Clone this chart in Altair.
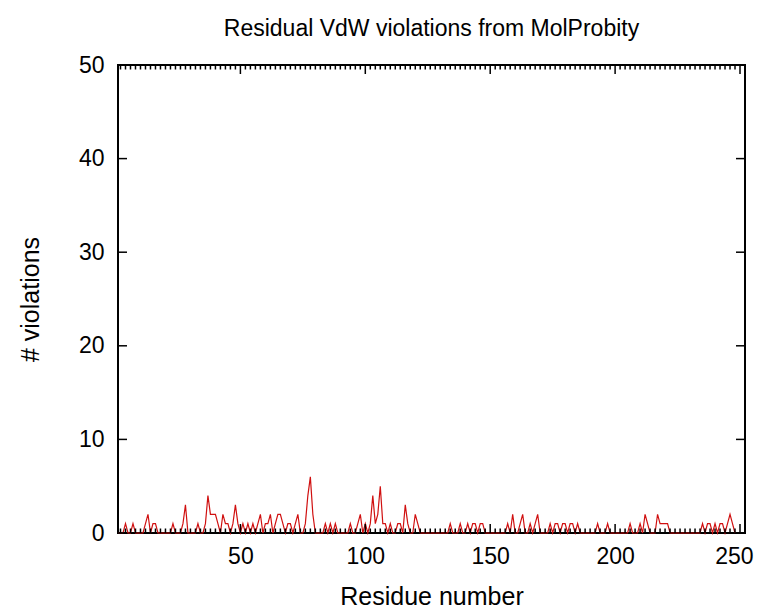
import altair as alt
import pandas as pd

# Residue-wise VdW violation counts (residues 1..248)
violations = [
    0, 0, 0, 1, 0, 0, 1, 0, 0, 0,   # 1-10
    0, 1, 2, 0, 1, 1, 0, 0, 0, 0,   # 11-20
    0, 0, 1, 0, 0, 0, 1, 3, 0, 0,   # 21-30
    0, 0, 1, 0, 0, 1, 4, 2, 2, 2,   # 31-40
    1, 0, 2, 1, 1, 0, 1, 3, 1, 0,   # 41-50
    1, 0, 1, 0, 1, 0, 1, 2, 0, 1,   # 51-60
    1, 2, 0, 1, 2, 2, 1, 0, 1, 1,   # 61-70
    0, 1, 2, 0, 0, 1, 4, 6, 2, 0,   # 71-80
    0, 0, 0, 1, 0, 1, 0, 1, 0, 0,   # 81-90
    0, 0, 0, 1, 0, 0, 1, 2, 0, 1,   # 91-100
    0, 1, 4, 1, 2, 5, 1, 1, 0, 1,   # 101-110
    0, 0, 1, 1, 0, 3, 1, 0, 0, 2,   # 111-120
    1, 0, 0, 0, 0, 0, 0, 0, 0, 0,   # 121-130
    0, 0, 0, 1, 0, 0, 0, 1, 0, 0,   # 131-140
    1, 0, 1, 1, 0, 1, 1, 0, 0, 0,   # 141-150
    0, 0, 0, 0, 0, 0, 1, 0, 2, 0,   # 151-160
    0, 1, 2, 0, 0, 1, 0, 1, 2, 0,   # 161-170
    0, 0, 0, 1, 0, 1, 1, 0, 1, 1,   # 171-180
    0, 1, 1, 0, 1, 0, 0, 0, 0, 0,   # 181-190
    0, 0, 1, 0, 0, 0, 1, 0, 0, 0,   # 191-200
    0, 0, 0, 0, 0, 1, 0, 0, 0, 1,   # 201-210
    0, 2, 1, 0, 0, 0, 2, 1, 1, 1,   # 211-220
    1, 0, 0, 0, 0, 0, 0, 0, 0, 0,   # 221-230
    0, 0, 0, 0, 1, 0, 1, 1, 0, 1,   # 231-240
    0, 1, 1, 0, 1, 2, 1, 0,         # 241-248
]
residues = list(range(1, len(violations) + 1))

x_major = [50, 100, 150, 200, 250]
x_minor = [v for v in range(2, 252, 2) if v % 50 != 0]
y_major = [0, 10, 20, 30, 40, 50]

W, H = 627, 468
FONT = "Liberation Sans"

df = pd.DataFrame({"residue": residues, "violations": violations})
dfxM = pd.DataFrame({"residue": x_major})
dfxm = pd.DataFrame({"residue": x_minor})
dfy = pd.DataFrame({"violations": y_major})

xscale = alt.Scale(domain=[1, 252], nice=False, zero=False)
yscale = alt.Scale(domain=[0, 50], nice=False)

line = alt.Chart(df).mark_line(color="#d01010", strokeWidth=1.2).encode(
    x=alt.X("residue:Q", scale=xscale,
            axis=alt.Axis(values=x_major, ticks=False, domain=False, grid=False,
                          labelFontSize=23, labelFont=FONT, labelColor="black",
                          labelPadding=12, labelFlush=6, labelFlushOffset=13,
                          title="Residue number",
                          titleFontSize=25, titleFont=FONT, titleFontWeight="normal",
                          titleColor="black", titlePadding=16)),
    y=alt.Y("violations:Q", scale=yscale,
            axis=alt.Axis(values=y_major, ticks=False, domain=False, grid=False,
                          labelFontSize=23, labelFont=FONT, labelColor="black",
                          labelPadding=14, title="# violations",
                          titleFontSize=25, titleFont=FONT, titleFontWeight="normal",
                          titleColor="black", titlePadding=35)),
)

def xticks(data, y0, y1):
    return alt.Chart(data).mark_rule(color="black", strokeWidth=1.5).encode(
        x=alt.X("residue:Q", scale=xscale, axis=None),
        y=alt.value(y0), y2=alt.value(y1))

def yticks(x0, x1):
    return alt.Chart(dfy).mark_rule(color="black", strokeWidth=1.5).encode(
        y=alt.Y("violations:Q", scale=yscale, axis=None),
        x=alt.value(x0), x2=alt.value(x1))

layers = [
    line,
    xticks(dfxM, H, H - 9), xticks(dfxM, 0, 9),
    xticks(dfxm, H, H - 4.5), xticks(dfxm, 0, 4.5),
    yticks(0, 9), yticks(W, W - 9),
]

chart = alt.layer(*layers).resolve_axis(
    x="independent", y="independent"
).properties(
    width=W, height=H,
    title=alt.TitleParams("Residual VdW violations from MolProbity",
                          fontSize=23, font=FONT, fontWeight="normal",
                          color="black", anchor="middle", offset=13),
    autosize=alt.AutoSizeParams(type="none"),
    padding={"left": 110, "top": 57, "right": 10, "bottom": 75},
).configure_view(stroke="black", strokeWidth=2)

chart.save("out.html", embed_options={"renderer": "svg", "actions": False})
